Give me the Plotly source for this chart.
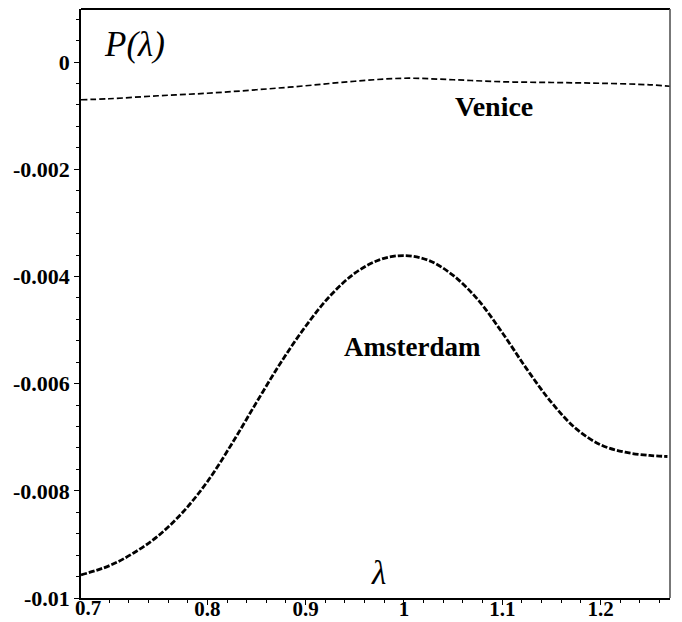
import plotly.graph_objects as go

# P(lambda) curves for the two cities
lam_amsterdam = [0.6715, 0.70, 0.725, 0.75, 0.775, 0.80, 0.825, 0.85, 0.875,
                 0.90, 0.925, 0.95, 0.975, 1.00, 1.025, 1.05, 1.075, 1.10,
                 1.125, 1.15, 1.175, 1.20, 1.225, 1.25, 1.268]
p_amsterdam = [-0.00957, -0.00940, -0.00916, -0.00884, -0.00840, -0.00783,
               -0.00712, -0.00635, -0.00560, -0.00493, -0.00436, -0.00394,
               -0.00369, -0.00361, -0.00370, -0.00398, -0.00443, -0.00505,
               -0.00573, -0.00635, -0.00684, -0.00714, -0.00728, -0.00734,
               -0.00736]

lam_venice = [0.6715, 0.70, 0.75, 0.80, 0.85, 0.90, 0.95, 1.00, 1.05, 1.10,
              1.15, 1.20, 1.25, 1.2706]
p_venice = [-0.000703, -0.000685, -0.000629, -0.000582, -0.000517, -0.000442,
            -0.000358, -0.000302, -0.000330, -0.000368, -0.000381, -0.000396,
            -0.000424, -0.000451]

x_range = [0.6715, 1.2706]
y_range = [-0.01, 0.00099]
x_major = [0.8, 0.9, 1.0, 1.1, 1.2]
x_major_text = ["0.8", "0.9", "1", "1.1", "1.2"]
x_minor = [round(0.70 + 0.02 * i, 2) for i in range(29)]
y_major = [0, -0.002, -0.004, -0.006, -0.008, -0.01]
y_major_text = ["0", "-0.002", "-0.004", "-0.006", "-0.008", "-0.01"]
y_minor = [round(0.0008 - 0.0004 * i, 4) for i in range(28)]

serif = "Liberation Serif"

fig = go.Figure()
fig.add_trace(go.Scatter(
    x=lam_venice, y=p_venice, mode="lines",
    line=dict(color="black", width=1.7, dash="6px,3px", shape="spline"),
    showlegend=False, hoverinfo="skip"))
fig.add_trace(go.Scatter(
    x=lam_amsterdam, y=p_amsterdam, mode="lines",
    line=dict(color="black", width=2.8, dash="6px,2px", shape="spline"),
    showlegend=False, hoverinfo="skip"))

fig.update_layout(
    width=682, height=622,
    margin=dict(l=81, r=12, t=9, b=24, autoexpand=False),
    paper_bgcolor="white", plot_bgcolor="white",
    font=dict(family=serif, color="black"),
    xaxis=dict(
        range=x_range, showgrid=False, zeroline=False, automargin=False,
        showline=True, linecolor="black", linewidth=1.5,
        tickmode="array", tickvals=x_major, ticktext=x_major_text,
        ticks="outside", ticklen=5, tickwidth=1.2, tickcolor="black",
        ticklabelstandoff=-14,
        tickfont=dict(family=serif, size=21, weight="bold"),
        minor=dict(tickmode="array", tickvals=x_minor, ticks="outside",
                   ticklen=3, tickwidth=1, tickcolor="black"),
    ),
    yaxis=dict(
        range=y_range, showgrid=False, zeroline=False, automargin=False,
        showline=True, linecolor="black", linewidth=1.5,
        tickmode="array", tickvals=y_major, ticktext=y_major_text,
        ticks="outside", ticklen=5, tickwidth=1.2, tickcolor="black",
        tickfont=dict(family=serif, size=22, weight="bold"),
        minor=dict(tickmode="array", tickvals=y_minor, ticks="outside",
                   ticklen=3, tickwidth=1, tickcolor="black"),
    ),
)

# frame: heavy top edge, grey right edge
fig.add_shape(type="line", xref="paper", yref="paper", x0=0, x1=1, y0=1, y1=1,
              line=dict(color="black", width=2.2))
fig.add_shape(type="line", xref="paper", yref="paper", x0=1, x1=1, y0=0, y1=1,
              line=dict(color="#555555", width=1.6))

# origin label of the horizontal axis
fig.add_annotation(text="<b>0.7</b>", xref="paper", yref="paper",
                   x=0.012, xanchor="center", y=0, yanchor="middle",
                   yshift=-10, showarrow=False,
                   font=dict(family=serif, size=21))

# axis titles
fig.add_annotation(text="<i>P(λ)</i>", xref="paper", yref="paper",
                   x=0.0357, xanchor="left", y=0.939, yanchor="middle",
                   showarrow=False, font=dict(family=serif, size=35))
fig.add_annotation(text="<i>λ</i>", xref="paper", yref="paper",
                   x=0.505, xanchor="center", y=0.042, yanchor="middle",
                   showarrow=False, font=dict(family=serif, size=33))

# curve labels
fig.add_annotation(text="<b>Venice</b>", x=1.092, y=-0.00083, showarrow=False,
                   font=dict(family=serif, size=28))
fig.add_annotation(text="<b>Amsterdam</b>", x=1.009, y=-0.00531, showarrow=False,
                   font=dict(family=serif, size=27))

fig.write_html("out.html")
